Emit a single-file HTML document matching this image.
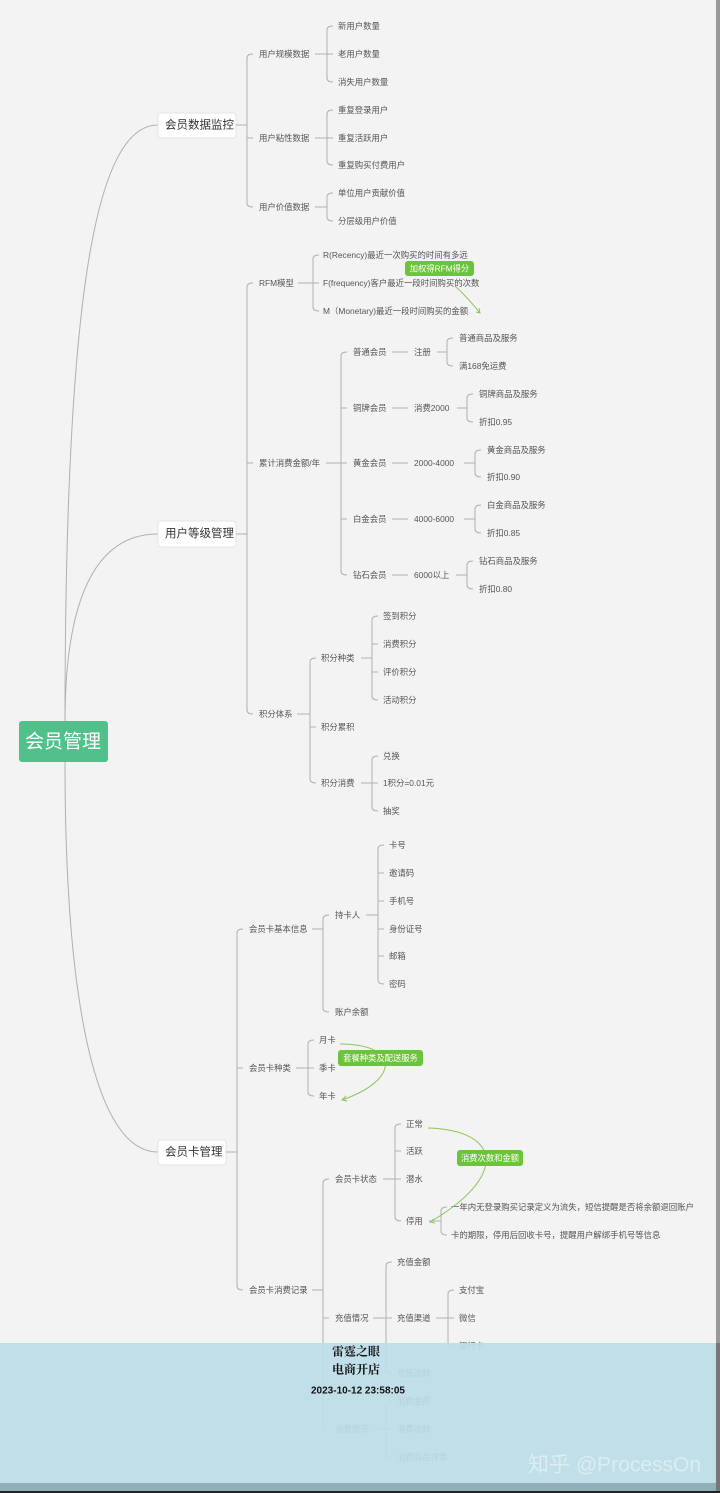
<!DOCTYPE html>
<html><head><meta charset="utf-8"><style>
html,body{margin:0;padding:0;background:#f3f3f3;}
svg{display:block;}
text{font-family:"Liberation Sans","Noto Sans CJK SC",sans-serif;font-size:8.4px;fill:#555;dominant-baseline:central;}
.l1{font-size:11.5px;fill:#333;}
.g{font-size:8.3px;fill:#fff;}
.ln{fill:none;stroke:#b0b0b0;stroke-width:1;}
.ga{fill:none;stroke:#8cc65a;stroke-width:1;}
</style></head><body>
<svg width="720" height="1493" viewBox="0 0 720 1493" xmlns="http://www.w3.org/2000/svg">
<rect width="720" height="1493" fill="#f3f3f3"/>
<path class="ln" d="M65,722 C65,300 95,125 158,125"/>
<path class="ln" d="M65,722 C65,600 95,534 158,534"/>
<path class="ln" d="M65,762 C65,1000 95,1152 158,1152"/>
<rect x="19" y="721" width="89" height="41" rx="3" fill="#52c08b"/>
<text x="63" y="742" text-anchor="middle" style="font-size:19px;fill:#fff">会员管理</text>

<rect x="158" y="113" width="78" height="25" rx="3" fill="#fff" stroke="#e4e4e4"/>
<text class="l1" x="165" y="125.5">会员数据监控</text>
<rect x="158" y="521" width="78" height="26" rx="3" fill="#fff" stroke="#e4e4e4"/>
<text class="l1" x="165" y="534">用户等级管理</text>
<rect x="158" y="1140" width="68" height="25" rx="3" fill="#fff" stroke="#e4e4e4"/>
<text class="l1" x="165" y="1152.5">会员卡管理</text>

<g class="ln">
<path d="M236,125H247 M253,54Q247,54 247,58V203Q247,207 253,207 M247,138H253"/>
<path d="M315,54H327 M333,26Q327,26 327,30V78Q327,82 333,82 M327,54H333"/>
<path d="M315,138H327 M333,110Q327,110 327,114V161Q327,165 333,165 M327,138H333"/>
<path d="M315,207H327 M333,193Q327,193 327,197V217Q327,221 333,221"/>
<path d="M236,534H247 M253,283Q247,283 247,287V710Q247,714 253,714 M247,463H253"/>
<path d="M298,283H313 M319,255Q313,255 313,259V307Q313,311 319,311 M313,283H319"/>
<path d="M326,463H341 M347,352Q341,352 341,356V571Q341,575 347,575 M341,408H347 M341,463H347 M341,519H347"/>
<path d="M392,352H408 M392,408H408 M392,463H408 M392,519H408 M392,575H408"/>
<path d="M437,352H447 M453,338Q447,338 447,342V362Q447,366 453,366"/>
<path d="M457,408H467 M473,394Q467,394 467,398V418Q467,422 473,422"/>
<path d="M464,463H475 M481,450Q475,450 475,454V473Q475,477 481,477"/>
<path d="M464,519H475 M481,505Q475,505 475,509V529Q475,533 481,533"/>
<path d="M456,575H467 M473,561Q467,561 467,565V585Q467,589 473,589"/>
<path d="M297,714H310 M316,658Q310,658 310,662V779Q310,783 316,783 M310,727H316"/>
<path d="M361,658H372 M378,616Q372,616 372,620V696Q372,700 378,700 M372,644H378 M372,672H378"/>
<path d="M361,783H372 M378,756Q372,756 372,760V807Q372,811 378,811 M372,783H378"/>
<path d="M226,1152H237 M243,929Q237,929 237,933V1286Q237,1290 243,1290 M237,1068H243"/>
<path d="M312,929H323 M329,915Q323,915 323,919V1008Q323,1012 329,1012"/>
<path d="M366,915H378 M384,845Q378,845 378,849V980Q378,984 384,984 M378,873H384 M378,901H384 M378,929H384 M378,956H384"/>
<path d="M296,1068H308 M314,1040Q308,1040 308,1044V1092Q308,1096 314,1096 M308,1068H314"/>
<path d="M312,1290H323 M329,1179Q323,1179 323,1183V1425Q323,1429 329,1429 M323,1318H329"/>
<path d="M383,1179H395 M401,1124Q395,1124 395,1128V1217Q395,1221 401,1221 M395,1151H401 M395,1179H401"/>
<path d="M429,1221H441 M447,1207Q441,1207 441,1211V1231Q441,1235 447,1235"/>
<path d="M373,1318H386 M392,1262Q386,1262 386,1266V1369Q386,1373 392,1373 M386,1318H392"/>
<path d="M436,1318H448 M454,1290Q448,1290 448,1294V1342Q448,1346 454,1346 M448,1318H454"/>
<path d="M373,1429H386 M392,1401Q386,1401 386,1405V1453Q386,1457 392,1457 M386,1429H392"/>
</g>

<text x="259" y="54">用户规模数据</text><text x="259" y="138">用户粘性数据</text><text x="259" y="207">用户价值数据</text>
<text x="338" y="26">新用户数量</text><text x="338" y="54">老用户数量</text><text x="338" y="82">消失用户数量</text>
<text x="338" y="110">重复登录用户</text><text x="338" y="138">重复活跃用户</text><text x="338" y="165">重复购买付费用户</text>
<text x="338" y="193">单位用户贡献价值</text><text x="338" y="221">分层级用户价值</text>
<text x="259" y="283">RFM模型</text><text x="259" y="463">累计消费金额/年</text><text x="259" y="714">积分体系</text>
<text x="323" y="255">R(Recency)最近一次购买的时间有多远</text>
<text x="323" y="283">F(frequency)客户最近一段时间购买的次数</text>
<text x="323" y="311">M（Monetary)最近一段时间购买的金额</text>
<text x="353" y="352">普通会员</text><text x="353" y="408">铜牌会员</text><text x="353" y="463">黄金会员</text><text x="353" y="519">白金会员</text><text x="353" y="575">钻石会员</text>
<text x="414" y="352">注册</text><text x="414" y="408">消费2000</text><text x="414" y="463">2000-4000</text><text x="414" y="519">4000-6000</text><text x="414" y="575">6000以上</text>
<text x="459" y="338">普通商品及服务</text><text x="459" y="366">满168免运费</text>
<text x="479" y="394">铜牌商品及服务</text><text x="479" y="422">折扣0.95</text>
<text x="487" y="450">黄金商品及服务</text><text x="487" y="477">折扣0.90</text>
<text x="487" y="505">白金商品及服务</text><text x="487" y="533">折扣0.85</text>
<text x="479" y="561">钻石商品及服务</text><text x="479" y="589">折扣0.80</text>
<text x="321" y="658">积分种类</text><text x="321" y="727">积分累积</text><text x="321" y="783">积分消费</text>
<text x="383" y="616">签到积分</text><text x="383" y="644">消费积分</text><text x="383" y="672">评价积分</text><text x="383" y="700">活动积分</text>
<text x="383" y="756">兑换</text><text x="383" y="783">1积分=0.01元</text><text x="383" y="811">抽奖</text>
<text x="249" y="929">会员卡基本信息</text><text x="249" y="1068">会员卡种类</text><text x="249" y="1290">会员卡消费记录</text>
<text x="335" y="915">持卡人</text><text x="335" y="1012">账户余额</text>
<text x="389" y="845">卡号</text><text x="389" y="873">邀请码</text><text x="389" y="901">手机号</text><text x="389" y="929">身份证号</text><text x="389" y="956">邮箱</text><text x="389" y="984">密码</text>
<text x="319" y="1040">月卡</text><text x="319" y="1068">季卡</text><text x="319" y="1096">年卡</text>
<text x="335" y="1179">会员卡状态</text><text x="335" y="1318">充值情况</text><text x="335" y="1429">消费情况</text>
<text x="406" y="1124">正常</text><text x="406" y="1151">活跃</text><text x="406" y="1179">潜水</text><text x="406" y="1221">停用</text>
<text x="451" y="1207">一年内无登录购买记录定义为流失，短信提醒是否将余额退回账户</text>
<text x="451" y="1235">卡的期限，停用后回收卡号，提醒用户解绑手机号等信息</text>
<text x="397" y="1262">充值金额</text><text x="397" y="1318">充值渠道</text><text x="397" y="1373">充值次数</text>
<text x="459" y="1290">支付宝</text><text x="459" y="1318">微信</text><text x="459" y="1346">银行卡</text>
<text x="397" y="1401">消费金额</text><text x="397" y="1429">消费次数</text><text x="397" y="1457">消费商品详情</text>

<path class="ga" d="M455,286 C465,295 472,303 480,313 M476,312L480,313L479,308"/>
<rect x="405" y="261" width="69" height="15" rx="3" fill="#6cc43a"/>
<text class="g" x="439.5" y="268.5" text-anchor="middle">加权得RFM得分</text>
<path class="ga" d="M340,1044 C400,1044 400,1080 342,1100 M346,1096L342,1100L347,1101"/>
<rect x="338" y="1050" width="85" height="16" rx="3" fill="#6cc43a"/>
<text class="g" x="380.5" y="1058" text-anchor="middle">套餐种类及配送服务</text>
<path class="ga" d="M428,1128 C500,1130 510,1175 430,1222 M434,1219L430,1222L435,1223"/>
<rect x="457" y="1150" width="66" height="16" rx="3" fill="#6cc43a"/>
<text class="g" x="490" y="1158" text-anchor="middle">消费次数和金额</text>

<rect x="0" y="1343" width="720" height="140" fill="#bcdde6" fill-opacity="0.93"/>
<rect x="0" y="1483" width="720" height="8" fill="#8fb0ba"/>
<rect x="0" y="1491" width="720" height="2" fill="#222"/>
<rect x="716" y="0" width="4" height="1343" fill="#999"/>
<rect x="716" y="1343" width="4" height="148" fill="#777"/>
<text x="332" y="1351" style="font-size:12px;fill:#111;font-weight:bold;font-family:'Noto Serif CJK SC',serif">雷霆之眼</text>
<text x="332" y="1369" style="font-size:12px;fill:#111;font-weight:bold;font-family:'Noto Serif CJK SC',serif">电商开店</text>
<text x="311" y="1391" style="font-size:10px;fill:#111;font-weight:bold">2023-10-12 23:58:05</text>
<text x="528" y="1465" style="font-size:21px;fill:#fff;fill-opacity:0.45">知乎 @ProcessOn</text>
</svg>
</body></html>
